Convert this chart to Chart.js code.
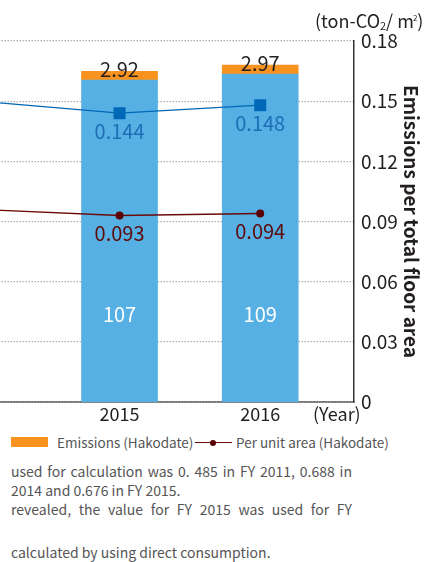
<!DOCTYPE html>
<html>
<head>
<meta charset="utf-8">
<script src="https://cdn.jsdelivr.net/npm/chart.js@4.4.1/dist/chart.umd.min.js"></script>
<style>
  html, body { margin: 0; padding: 0; background: #fff; }
  body { width: 428px; height: 562px; overflow: hidden; position: relative;
         font-family: "Noto Sans CJK JP", "Noto Sans", sans-serif; color: #231f20; }
  #wrap { position: absolute; left: -100px; top: 0; width: 528px; height: 430px; }
  .abs { position: absolute; white-space: nowrap; }
  .unit { left: 315px; top: 6px; font-size: 18px; line-height: 24px; }
  .unit sub { font-size: 11px; vertical-align: -2px; }
  .unit sup { font-size: 8px; vertical-align: 7px; margin-left: -1px; }
  .year { left: 313px; top: 401px; font-size: 18px; line-height: 24px; }
  .swatch { left: 11px; top: 437px; width: 37px; height: 10px; background: #f7931e; }
  .lgline { left: 195px; top: 441.5px; width: 37px; height: 1.4px; background: #6b0a0a; }
  .lgdot { left: 210px; top: 439.5px; width: 6px; height: 6px; border-radius: 50%; background: #5a0000; }
  .lgtext { top: 433px; font-size: 13.5px; line-height: 18px; color: #555; }
  .note { left: 11px; font-size: 14px; line-height: 19px; color: #555; }
  .just { width: 341px; text-align: justify; text-align-last: justify; white-space: normal; }
</style>
</head>
<body>
<div id="wrap"><canvas id="chart"></canvas></div>

<div class="abs unit">(ton-CO<sub>2</sub>/ m<sup>2</sup>)</div>
<div class="abs year">(Year)</div>

<div class="abs swatch"></div>
<div class="abs lgtext" style="left:57px">Emissions (Hakodate)</div>
<div class="abs lgline"></div>
<div class="abs lgdot"></div>
<div class="abs lgtext" style="left:236px">Per unit area (Hakodate)</div>

<div class="abs note just" style="top:462px">used for calculation was 0. 485 in FY 2011, 0.688 in</div>
<div class="abs note" style="top:481px">2014 and 0.676 in FY 2015.</div>
<div class="abs note just" style="top:500px">revealed, the value for FY 2015 was used for FY</div>
<div class="abs note" style="top:543px">calculated by using direct consumption.</div>

<script>
// 年度（2014 は左側で切れている）
const years = [2014, 2015, 2016];
const emissionsMain = [null, 107, 109];
const emissionsHakodate = [null, 2.92, 2.97];
const perAreaMain = [0.150, 0.144, 0.148];
const perAreaHakodate = [0.096, 0.093, 0.094];
const rightTicks = [0, 0.03, 0.06, 0.09, 0.12, 0.15, 0.18];
const rightTickLabels = ['0', '0.03', '0.06', '0.09', '0.12', '0.15', '0.18'];

const FONT = '"Noto Sans CJK JP", "Noto Sans", sans-serif';

function points(arr) {
  return years.map((y, i) => ({ x: y, y: arr[i] }));
}

// 値ラベル（棒のある年だけ）
const valueLabels = {
  id: 'valueLabels',
  afterDatasetsDraw(chart) {
    const ctx = chart.ctx;
    ctx.save();
    ctx.textAlign = 'center';
    ctx.textBaseline = 'alphabetic';
    ctx.font = '20px ' + FONT;
    chart.data.datasets.forEach((ds, di) => {
      const meta = chart.getDatasetMeta(di);
      meta.data.forEach((el, i) => {
        const v = ds.data[i].y;
        if (v == null || emissionsMain[i] == null) return;
        let y, text;
        if (ds.tag === 'main') { y = el.base - 80; text = String(v); }
        else if (ds.tag === 'hako') { y = el.y + 6; text = v.toFixed(2); }
        else { y = el.y + 26; text = v.toFixed(3); }
        ctx.fillStyle = ds.labelColor;
        ctx.fillText(text, el.x, y);
      });
    });
    ctx.restore();
  }
};

new Chart(document.getElementById('chart'), {
  type: 'bar',
  data: {
    datasets: [
      {
        type: 'line', tag: 'line', data: points(perAreaMain), yAxisID: 'y1', order: 1,
        borderColor: '#0068b7', borderWidth: 1.3, tension: 0,
        pointStyle: 'rect', pointRadius: 8.5, pointBackgroundColor: '#0068b7', pointBorderWidth: 0,
        labelColor: '#1f6db5'
      },
      {
        type: 'line', tag: 'line', data: points(perAreaHakodate), yAxisID: 'y1', order: 1,
        borderColor: '#6b0a0a', borderWidth: 1.3, tension: 0,
        pointStyle: 'circle', pointRadius: 4, pointBackgroundColor: '#5a0000', pointBorderWidth: 0,
        labelColor: '#5e0b0b'
      },
      {
        tag: 'main', data: points(emissionsMain), yAxisID: 'y', order: 2,
        backgroundColor: '#56b0e3', barThickness: 76, labelColor: '#ffffff'
      },
      {
        tag: 'hako', data: points(emissionsHakodate), yAxisID: 'y', order: 2,
        backgroundColor: '#f7931e', barThickness: 76, labelColor: '#231f20'
      }
    ]
  },
  options: {
    responsive: true,
    maintainAspectRatio: false,
    animation: false,
    devicePixelRatio: 1,
    layout: { padding: { left: 7.5, top: 41, right: 0, bottom: 0 } },
    plugins: { legend: { display: false }, tooltip: { enabled: false } },
    scales: {
      x: {
        type: 'linear', min: 2013.5, max: 2016 + 94 / 141, stacked: true, offset: false, z: 1,
        grid: { display: false },
        border: { display: true, color: 'rgba(60,60,60,0.6)', width: 2 },
        afterBuildTicks: s => { s.ticks = years.map(v => ({ value: v })); },
        afterFit: s => { s.height = 28; },
        ticks: {
          callback: v => String(v), maxRotation: 0, autoSkip: false, padding: -7,
          color: '#231f20', font: { family: FONT, size: 18 }
        }
      },
      y: {
        display: false, stacked: true, min: 0, max: 120
      },
      y1: {
        position: 'right', min: 0, max: 0.18,
        grid: { color: '#b0b0b0', lineWidth: 1.2, drawTicks: false },
        border: { display: true, color: '#333', width: 1.5, dash: [1.5, 1.5] },
        afterBuildTicks: s => { s.ticks = rightTicks.map(v => ({ value: v })); },
        afterFit: s => { s.width = 74; },
        ticks: {
          callback: (v, i) => rightTickLabels[i], padding: 7,
          color: '#231f20', font: { family: FONT, size: 19 }
        },
        title: {
          display: true, text: 'Emissions per total floor area',
          color: '#231f20', font: { family: FONT, size: 19, weight: 'bold' },
          padding: { top: 5, bottom: 0 }
        }
      }
    }
  },
  plugins: [valueLabels]
});
</script>
</body>
</html>
